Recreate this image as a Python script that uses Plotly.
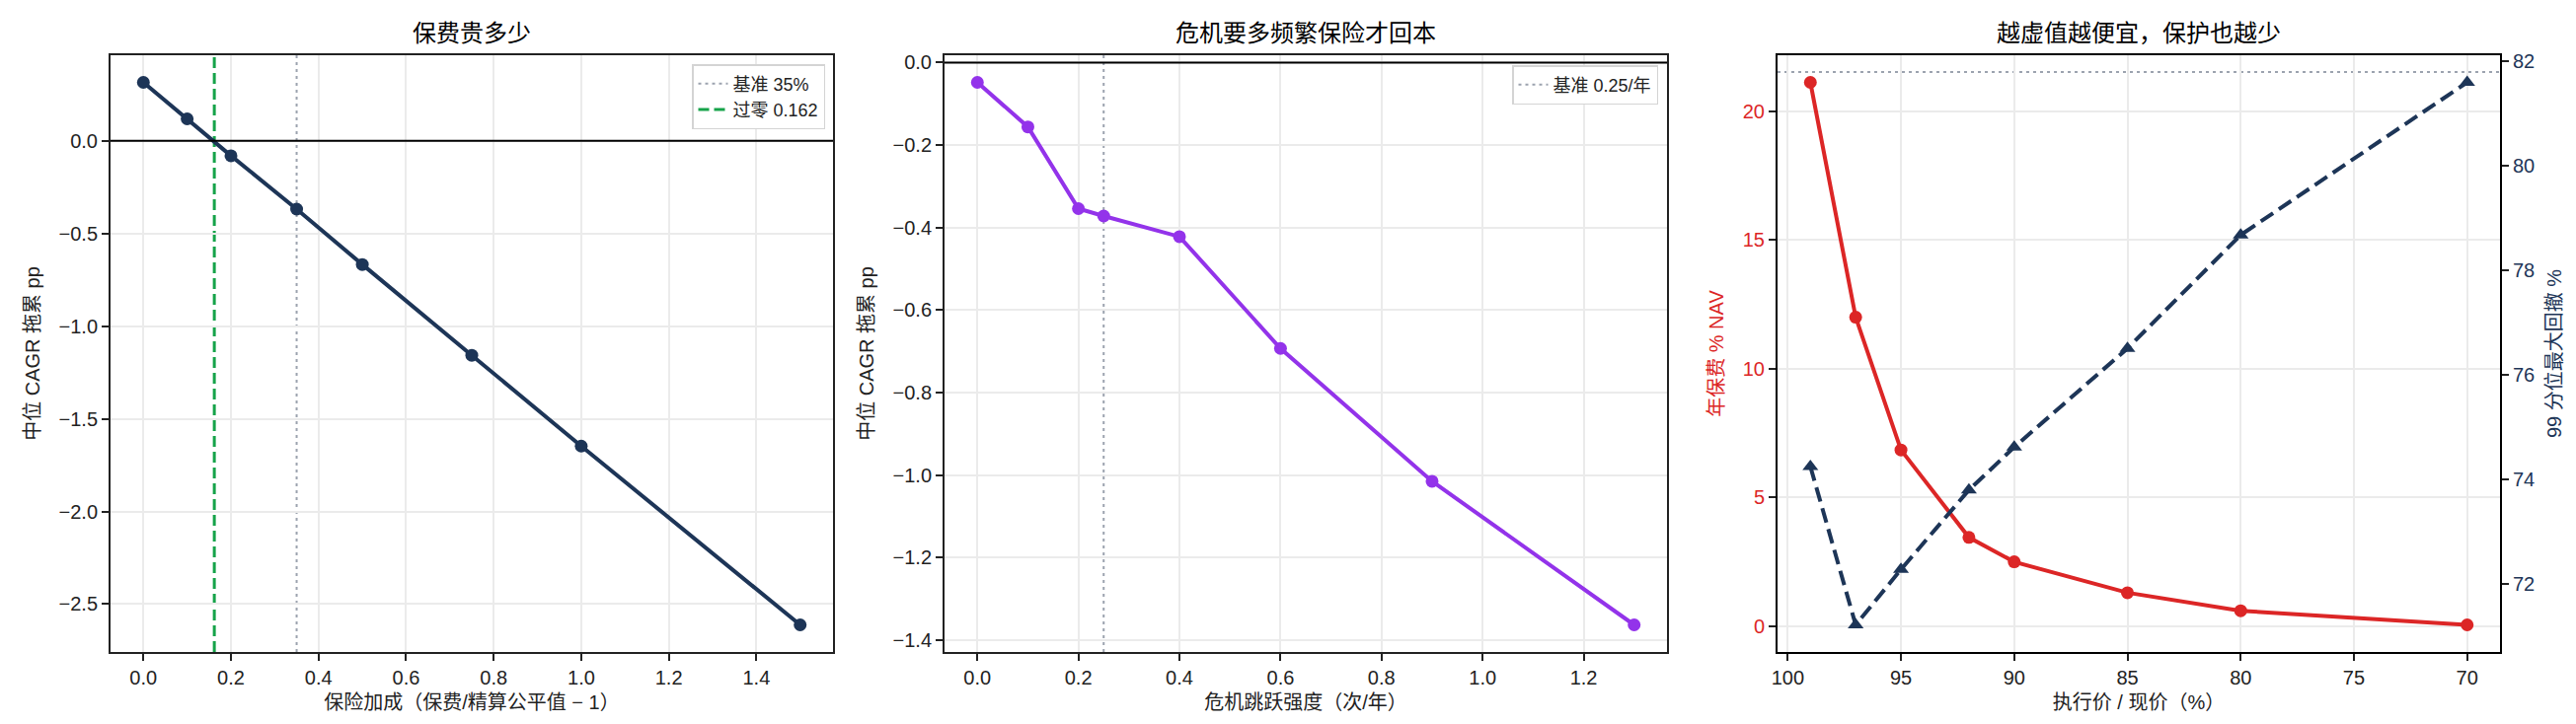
import plotly.graph_objects as go

# --- data ---
markup = [0.0, 0.1, 0.2, 0.35, 0.5, 0.75, 1.0, 1.5]
markup_drag = [0.316, 0.119, -0.080, -0.368, -0.667, -1.157, -1.647, -2.612]
base_markup = 0.35
breakeven_markup = 0.162

jump_rate = [0.0, 0.1, 0.2, 0.25, 0.4, 0.6, 0.9, 1.3]
jump_drag = [-0.048, -0.156, -0.354, -0.372, -0.422, -0.693, -1.015, -1.363]
base_rate = 0.25

strike = [99, 97, 95, 92, 90, 85, 80, 70]
premium = [21.13, 12.0, 6.84, 3.44, 2.49, 1.29, 0.59, 0.04]
dd99 = [74.25, 71.22, 72.28, 73.8, 74.62, 76.51, 78.68, 81.6]
unhedged_dd = 81.8

NAVY = '#1d3557'
PURPLE = '#9333ea'
RED = '#dc2626'
GREEN = '#16a34a'
GRAY = '#9ca3af'
FONT = 'Liberation Sans, Noto Sans CJK SC, sans-serif'
W, H = 2610, 734


def pad(vals, frac=0.05):
    lo, hi = min(vals), max(vals)
    d = (hi - lo) * frac
    return [lo - d, hi + d]


fig = go.Figure()

fig.add_trace(go.Scatter(
    x=markup, y=markup_drag, mode='lines+markers',
    line=dict(color=NAVY, width=4), marker=dict(size=13, color=NAVY),
    showlegend=False, xaxis='x', yaxis='y'))

fig.add_trace(go.Scatter(
    x=jump_rate, y=jump_drag, mode='lines+markers',
    line=dict(color=PURPLE, width=4), marker=dict(size=13, color=PURPLE),
    showlegend=False, xaxis='x2', yaxis='y2'))

fig.add_trace(go.Scatter(
    x=strike, y=premium, mode='lines+markers',
    line=dict(color=RED, width=4), marker=dict(size=13, color=RED),
    showlegend=False, xaxis='x3', yaxis='y3'))

fig.add_trace(go.Scatter(
    x=strike, y=dd99, mode='lines+markers',
    line=dict(color=NAVY, width=4, dash='15px,7px'),
    marker=dict(size=14, color=NAVY, symbol='triangle-up'),
    showlegend=False, xaxis='x3', yaxis='y4'))

# reference lines
fig.add_shape(type='line', xref='x domain', yref='y', x0=0, x1=1, y0=0, y1=0,
              line=dict(color='black', width=2), layer='above')
fig.add_shape(type='line', xref='x', yref='y domain', x0=base_markup, x1=base_markup,
              y0=0, y1=1, line=dict(color=GRAY, width=2, dash='3px,4px'), layer='below',
              showlegend=True, name='基准 35%', legend='legend')
fig.add_shape(type='line', xref='x', yref='y domain', x0=breakeven_markup, x1=breakeven_markup,
              y0=0, y1=1, line=dict(color=GREEN, width=3, dash='11px,5px'), layer='below',
              showlegend=True, name=f'过零 {breakeven_markup:.3f}', legend='legend')

fig.add_shape(type='line', xref='x2 domain', yref='y2', x0=0, x1=1, y0=0, y1=0,
              line=dict(color='black', width=2), layer='above')
fig.add_shape(type='line', xref='x2', yref='y2 domain', x0=base_rate, x1=base_rate,
              y0=0, y1=1, line=dict(color=GRAY, width=2, dash='3px,4px'), layer='below',
              showlegend=True, name='基准 0.25/年', legend='legend2')

fig.add_shape(type='line', xref='x3 domain', yref='y4', x0=0, x1=1, y0=unhedged_dd, y1=unhedged_dd,
              line=dict(color=GRAY, width=2, dash='3px,4px'), layer='below')

dom_x = [[104 / W, 836 / W], [949 / W, 1681 / W], [1793 / W, 2525 / W]]
dom_y = [1 - 653 / H, 1 - 48 / H]

axis_common = dict(
    showline=True, mirror=True, linecolor='#222', linewidth=2,
    ticks='outside', ticklen=7, tickwidth=1.5, tickcolor='#222',
    showgrid=True, gridcolor='#ebebeb', gridwidth=1.5, zeroline=False,
    tickfont=dict(size=20, color='#222'), automargin=False,
)

fig.update_layout(
    width=W, height=H,
    margin=dict(l=0, r=0, t=0, b=0),
    paper_bgcolor='white', plot_bgcolor='white',
    font=dict(family=FONT, color='#222'),
    xaxis=dict(domain=dom_x[0], anchor='y', range=pad(markup), dtick=0.2, tick0=0,
               tickformat='.1f', title=dict(text='保险加成（保费/精算公平值 − 1）',
                                            font=dict(size=20), standoff=8), **axis_common),
    yaxis=dict(domain=dom_y, anchor='x', range=pad(markup_drag), dtick=0.5, tick0=0,
               tickformat='.1f', title=dict(text='中位 CAGR 拖累 pp', font=dict(size=20),
                                            standoff=14), **axis_common),
    xaxis2=dict(domain=dom_x[1], anchor='y2', range=pad(jump_rate), dtick=0.2, tick0=0,
                tickformat='.1f', title=dict(text='危机跳跃强度（次/年）',
                                             font=dict(size=20), standoff=8), **axis_common),
    yaxis2=dict(domain=dom_y, anchor='x2', range=pad(jump_drag), dtick=0.2, tick0=0,
                tickformat='.1f', title=dict(text='中位 CAGR 拖累 pp', font=dict(size=20),
                                             standoff=14), **axis_common),
    xaxis3=dict(domain=dom_x[2], anchor='y3', range=pad(strike)[::-1], dtick=5, tick0=0,
                title=dict(text='执行价 / 现价（%）', font=dict(size=20), standoff=8),
                **{**axis_common, 'linecolor': 'black'}),
    yaxis3=dict(domain=dom_y, anchor='x3', range=pad(premium), dtick=5, tick0=0,
                title=dict(text='年保费 % NAV', font=dict(size=20, color=RED), standoff=14),
                **{**axis_common, 'tickfont': dict(size=20, color=RED), 'linecolor': 'black'}),
    yaxis4=dict(domain=dom_y, anchor='x3', overlaying='y3', side='right',
                range=pad(dd99), dtick=2, tick0=0,
                title=dict(text='99 分位最大回撤 %', font=dict(size=20, color=NAVY), standoff=14),
                **{**axis_common, 'tickfont': dict(size=20, color=NAVY), 'showgrid': False,
                   'linecolor': 'black'}),
    legend=dict(x=828 / W, xanchor='right', y=1 - 57 / H, yanchor='top',
                bgcolor='white', bordercolor='#d4d4d4', borderwidth=1.5,
                font=dict(size=18)),
    legend2=dict(x=1672 / W, xanchor='right', y=1 - 58 / H, yanchor='top',
                 bgcolor='white', bordercolor='#d4d4d4', borderwidth=1.5,
                 font=dict(size=18)),
)

titles = ['保费贵多少', '危机要多频繁保险才回本', '越虚值越便宜，保护也越少']
for dx, t in zip(dom_x, titles):
    fig.add_annotation(text=t, x=(dx[0] + dx[1]) / 2, y=1 - 26 / H, xref='paper', yref='paper',
                       xanchor='center', yanchor='middle', showarrow=False,
                       font=dict(size=24, color='black'))

fig.write_html('out.html')
